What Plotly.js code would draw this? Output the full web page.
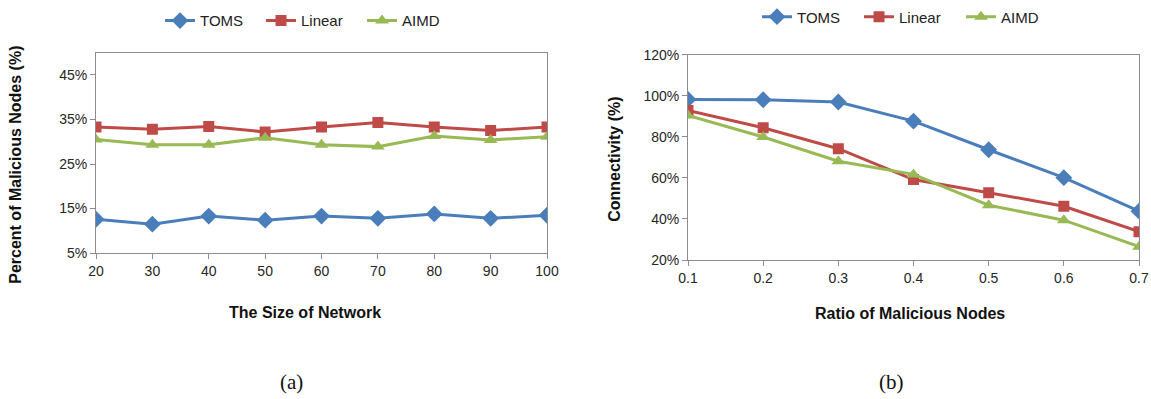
<!DOCTYPE html>
<html>
<head>
<meta charset="utf-8">
<script src="https://cdn.plot.ly/plotly-3.0.1.min.js"></script>
<style>
  html, body { margin: 0; padding: 0; background: #fff; }
  #chart { width: 1151px; height: 399px; }
</style>
</head>
<body>
<div id="chart"></div>
<script>
// (a) malicious nodes detected vs. network size
const networkSize = [20, 30, 40, 50, 60, 70, 80, 90, 100];
const sizeToms   = [12.6, 11.5, 13.3, 12.4, 13.3, 12.8, 13.8, 12.8, 13.5];
const sizeLinear = [33.3, 32.8, 33.4, 32.2, 33.3, 34.3, 33.3, 32.5, 33.3];
const sizeAimd   = [30.5, 29.3, 29.3, 30.9, 29.3, 28.9, 31.3, 30.4, 31.1];
const pctTicks = [5, 15, 25, 35, 45];
const pctLabels = ['5%', '15%', '25%', '35%', '45%'];

// (b) connectivity vs. ratio of malicious nodes
const maliciousRatio = [0.1, 0.2, 0.3, 0.4, 0.5, 0.6, 0.7];
const connToms   = [98.2, 98.0, 96.9, 87.6, 73.7, 60.1, 43.8];
const connLinear = [92.8, 84.4, 74.2, 59.2, 52.8, 46.2, 33.8];
const connAimd   = [90.4, 79.9, 68.1, 61.7, 46.7, 39.4, 26.5];
const connTicks = [20, 40, 60, 80, 100, 120];
const connLabels = ['20%', '40%', '60%', '80%', '100%', '120%'];
const ratioLabels = ['0.1', '0.2', '0.3', '0.4', '0.5', '0.6', '0.7'];

const seriesNames = ['TOMS', 'Linear', 'AIMD'];

const BLUE = '#4a7ebb', RED = '#be4b48', GREEN = '#98b954';
const styles = [
  { color: BLUE,  symbol: 'diamond',     size: 13 },
  { color: RED,   symbol: 'square',      size: 11 },
  { color: GREEN, symbol: 'triangle-up', size: 12 }
];

function series(x, y, i, xa, ya, legend) {
  return {
    x: x, y: y, name: seriesNames[i], type: 'scatter', mode: 'lines+markers',
    xaxis: xa, yaxis: ya, legend: legend,
    line: { color: styles[i].color, width: 3 },
    marker: { color: styles[i].color, symbol: styles[i].symbol, size: styles[i].size }
  };
}

const traces = [
  series(networkSize, sizeToms,   0, 'x', 'y', 'legend'),
  series(networkSize, sizeLinear, 1, 'x', 'y', 'legend'),
  series(networkSize, sizeAimd,   2, 'x', 'y', 'legend'),
  series(maliciousRatio, connToms,   0, 'x2', 'y2', 'legend2'),
  series(maliciousRatio, connLinear, 1, 'x2', 'y2', 'legend2'),
  series(maliciousRatio, connAimd,   2, 'x2', 'y2', 'legend2')
];

const W = 1151, H = 399;
const FONT = 'Liberation Sans, Arial, sans-serif';
const tickFont = { family: FONT, size: 14, color: '#262626' };
const titleFont = { family: FONT, size: 16, color: '#111', weight: 'bold' };
const axisBase = {
  showline: true, linecolor: '#8c8c8c', linewidth: 1, mirror: true,
  showgrid: false, zeroline: false, ticks: 'outside', ticklen: 5,
  tickcolor: '#8c8c8c', tickfont: tickFont, fixedrange: true,
  automargin: false, tickmode: 'array'
};

// pixel helpers for paper coordinates
const px = v => v / W;
const py = v => 1 - v / H;

function label(text, x, y, font, angle) {
  return {
    text: text, xref: 'paper', yref: 'paper', x: px(x), y: py(y),
    xanchor: 'center', yanchor: 'middle', showarrow: false,
    font: font, textangle: angle || 0
  };
}

const captionFont = { family: 'Liberation Serif, DejaVu Serif, serif', size: 21, color: '#111' };

const layout = {
  width: W, height: H,
  margin: { l: 0, r: 0, t: 0, b: 0 },
  paper_bgcolor: '#fff', plot_bgcolor: '#fff',
  showlegend: true,
  xaxis: Object.assign({}, axisBase, {
    domain: [px(96), px(547)], range: [20, 100],
    tickvals: networkSize, anchor: 'y'
  }),
  yaxis: Object.assign({}, axisBase, {
    domain: [py(252), py(50)], range: [5, 50],
    tickvals: pctTicks, ticktext: pctLabels, anchor: 'x'
  }),
  xaxis2: Object.assign({}, axisBase, {
    domain: [px(688), px(1139)], range: [0.1, 0.7],
    tickvals: maliciousRatio, ticktext: ratioLabels, anchor: 'y2'
  }),
  yaxis2: Object.assign({}, axisBase, {
    domain: [py(259), py(52)], range: [20, 120],
    tickvals: connTicks, ticktext: connLabels, anchor: 'x2'
  }),
  legend: {
    orientation: 'h', x: px(160), xanchor: 'left', y: py(18), yanchor: 'middle',
    font: { family: FONT, size: 15, color: '#222' }, itemwidth: 30,
    entrywidth: 56, entrywidthmode: 'pixels', bgcolor: 'rgba(0,0,0,0)'
  },
  legend2: {
    orientation: 'h', x: px(757), xanchor: 'left', y: py(14), yanchor: 'middle',
    font: { family: FONT, size: 15, color: '#222' }, itemwidth: 30,
    entrywidth: 57, entrywidthmode: 'pixels', bgcolor: 'rgba(0,0,0,0)'
  },
  annotations: [
    label('The Size of Network', 305, 312, titleFont),
    label('Percent of Malicious Nodes (%)', 16, 163, titleFont, -90),
    label('Ratio of Malicious Nodes', 910, 313, titleFont),
    label('Connectivity (%)', 615, 158, titleFont, -90),
    label('(a)', 291, 382, captionFont),
    label('(b)', 891, 382, captionFont)
  ]
};

Plotly.newPlot('chart', traces, layout, { displayModeBar: false, staticPlot: true });
</script>
</body>
</html>
